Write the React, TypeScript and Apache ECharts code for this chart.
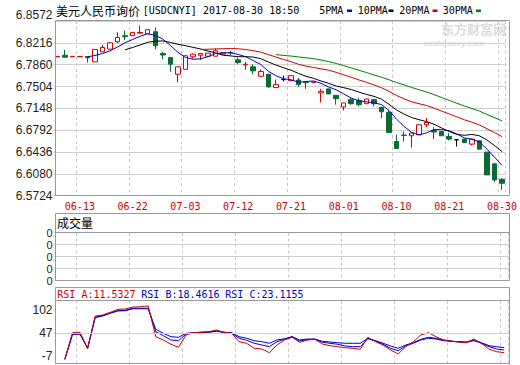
import React, { useEffect, useRef } from 'react';
import * as echarts from 'echarts';

const dates = [
  '06-08', '06-09', '06-12', '06-13', '06-14', '06-15', '06-16', '06-19', '06-20', '06-21',
  '06-22', '06-23', '06-26', '06-27', '06-28', '06-29', '06-30', '07-03', '07-04', '07-05',
  '07-06', '07-07', '07-10', '07-11', '07-12', '07-13', '07-14', '07-17', '07-18', '07-19',
  '07-20', '07-21', '07-24', '07-25', '07-26', '07-27', '07-28', '07-31', '08-01', '08-02',
  '08-03', '08-04', '08-07', '08-08', '08-09', '08-10', '08-11', '08-14', '08-15', '08-16',
  '08-17', '08-18', '08-21', '08-22', '08-23', '08-24', '08-25', '08-28', '08-29', '08-30',
];

const opens = [
  6.7990, 6.8014, 6.7990, 6.7990, 6.7993, 6.7906, 6.8070, 6.8113, 6.8234, 6.8332,
  6.8332, 6.8374, 6.8364, 6.8397, 6.8042, 6.7977, 6.7704, 6.7785, 6.7988, 6.8014,
  6.7998, 6.7998, 6.8031, 6.8060, 6.7939, 6.7857, 6.7825, 6.7671, 6.7704, 6.7486,
  6.7617, 6.7600, 6.7609, 6.7572, 6.7570, 6.7399, 6.7465, 6.7360, 6.7170, 6.7290,
  6.7278, 6.7224, 6.7290, 6.7164, 6.7082, 6.6607, 6.6712, 6.6701, 6.6717, 6.6881,
  6.6787, 6.6771, 6.6689, 6.6635, 6.6647, 6.6565, 6.6619, 6.6434, 6.6243, 6.5992,
];
const closes = [
  6.7995, 6.7982, 6.7995, 6.7995, 6.7972, 6.8108, 6.8140, 6.8217, 6.8304, 6.8315,
  6.8386, 6.8386, 6.8430, 6.8168, 6.8018, 6.7867, 6.7825, 6.8005, 6.8031, 6.8042,
  6.8047, 6.8086, 6.8054, 6.8050, 6.7895, 6.7867, 6.7759, 6.7748, 6.7497, 6.7535,
  6.7617, 6.7680, 6.7535, 6.7565, 6.7576, 6.7425, 6.7383, 6.7306, 6.7236, 6.7224,
  6.7208, 6.7301, 6.7224, 6.7093, 6.6755, 6.6493, 6.6706, 6.6745, 6.6881, 6.6918,
  6.6761, 6.6701, 6.6647, 6.6635, 6.6591, 6.6647, 6.6483, 6.6063, 6.5981, 6.5927,
];
const lows = [
  6.7985, 6.7980, 6.7988, 6.7988, 6.7895, 6.7906, 6.8065, 6.8110, 6.8211, 6.8260,
  6.8330, 6.8369, 6.8362, 6.8113, 6.7949, 6.7743, 6.7573, 6.7780, 6.7960, 6.7939,
  6.7990, 6.7995, 6.8025, 6.8014, 6.7867, 6.7775, 6.7704, 6.7665, 6.7490, 6.7480,
  6.7589, 6.7595, 6.7497, 6.7465, 6.7568, 6.7245, 6.7380, 6.7208, 6.7115, 6.7208,
  6.7180, 6.7220, 6.7180, 6.6990, 6.6750, 6.6490, 6.6607, 6.6509, 6.6715, 6.6843,
  6.6647, 6.6698, 6.6624, 6.6526, 6.6588, 6.6542, 6.6480, 6.6060, 6.5943, 6.5817,
];
const highs = [
  6.8000, 6.8103, 6.7998, 6.7998, 6.8000, 6.8108, 6.8178, 6.8230, 6.8386, 6.8414,
  6.8390, 6.8495, 6.8440, 6.8468, 6.8070, 6.7980, 6.7830, 6.8010, 6.8042, 6.8045,
  6.8050, 6.8124, 6.8060, 6.8080, 6.7977, 6.7906, 6.7867, 6.7785, 6.7710, 6.7617,
  6.7682, 6.7685, 6.7645, 6.7589, 6.7580, 6.7465, 6.7470, 6.7362, 6.7240, 6.7327,
  6.7318, 6.7305, 6.7295, 6.7170, 6.7115, 6.6717, 6.6771, 6.6750, 6.6885, 6.6990,
  6.6843, 6.6775, 6.6745, 6.6647, 6.6650, 6.6650, 6.6625, 6.6440, 6.6250, 6.6009,
];

const rsiA = [
  null, -13.6, 48.8, 49.7, 12.2, 87.9, 90.3, 96.6, 103.6, 104.3,
  109, 109.7, 111.4, 39.4, 31.7, 21.6, 14.6, 43.4, 48.8, 49.7,
  51.1, 55.1, 49.7, 47.4, 27.7, 23.9, 12.2, 10.6, 1.9, 20,
  31.7, 38, 26.3, 31.7, 33.3, 22.3, 18.3, 16, 13.6, 12.2,
  9.9, 38, 27.7, 20, 8.2, -1.1, 16, 27.7, 43.4, 48.8,
  39.4, 31.7, 29.3, 27, 25.4, 34, 23.9, 9.9, 4.3, 1.9,
];
const rsiB = [
  null, -13.6, 44.6, 45.7, 12.2, 85, 89, 95.3, 100.7, 101.4,
  106, 106, 106, 51.1, 41.8, 31.7, 30, 45.7, 48.8, 49.7,
  50.4, 52.8, 49.7, 48, 35.7, 31, 24, 20, 16, 27.7,
  33.3, 39.4, 29.3, 32.4, 33.3, 26.3, 24, 21.6, 17.6, 16,
  16, 34.7, 29.3, 21.6, 12.2, 6.6, 17.6, 24, 31.7, 35.7,
  34, 30, 28.6, 27.7, 26.3, 30, 24, 16, 10.6, 8.2,
];
const rsiC = [
  null, -13.6, 44.6, 45.7, 12.2, 84, 88, 94.3, 99.7, 100.4,
  105, 105, 105, 56.8, 47.4, 39.4, 38, 47.4, 48.8, 49.7,
  49.7, 52, 49.7, 48.8, 39.4, 35.7, 30, 27.7, 24, 31.7,
  34.7, 39.4, 31.7, 34, 34, 28.6, 27, 25.4, 24, 24,
  24, 35.7, 30, 24, 17.6, 12.2, 20, 25.4, 33.3, 38,
  35.7, 31.7, 28.6, 27, 27, 31.7, 25.4, 18.3, 16, 13.6,
];

const priceTicks = { min: 6.5724, max: 6.8572, step: 0.0356 };
const rsiLabels = [-7, 47, 102];
const volumeTicks = { min: 0, max: 4, step: 1 };

const titleCn = '美元人民币询价';
const titleEn = '[USDCNYI] 2017-08-30 18:50';
const maNames = ['5PMA', '10PMA', '20PMA', '30PMA'];
const maPeriods = [5, 10, 20, 30];
const maColors = ['#0000cc', '#000000', '#cc0000', '#008000'];
const rsiHeader = ['RSI_A:11.5327', 'RSI_B:18.4616', 'RSI_C:23.1155'];

function movingAverage(n: number) {
  return closes.map((_, i) => {
    if (i < n - 1) return null;
    let s = 0;
    for (let k = i - n + 1; k <= i; k++) s += closes[k];
    return +(s / n).toFixed(4);
  });
}

const MONO = "'DejaVu Sans Mono', 'Liberation Mono', monospace";
const SANS = "'Liberation Sans', Arial, sans-serif";
const CJK = "'Noto Sans CJK SC', sans-serif";

export default function App() {
  const ref = useRef<HTMLDivElement>(null);
  useEffect(() => {
    document.body.style.margin = '0';
    const chart = echarts.init(ref.current!, null, { renderer: 'svg' });
    const isMark = (index: number) => index >= 3 && (index - 3) % 7 === 0;
    const GL = 53.5;
    const GW = 454.5;
    const xBase = (gridIndex: number, showLabel: boolean) => ({
      type: 'category',
      gridIndex,
      data: dates,
      boundaryGap: true,
      axisLine: { show: false },
      axisTick: { show: false },
      axisLabel: {
        show: showLabel,
        interval: (i: number) => isMark(i),
        color: '#cc0000',
        fontFamily: MONO,
        fontSize: 10,
        margin: 6,
      },
      splitLine: {
        show: true,
        interval: (i: number) => isMark(i),
        lineStyle: { color: '#c8c8c8', type: [3, 3], width: 1 },
      },
    });

    const candleData = dates.map((_, i) => {
      const v = [opens[i], closes[i], lows[i], highs[i]];
      if (opens[i] === closes[i]) {
        return {
          value: v,
          itemStyle: { color: '#000', color0: '#000', borderColor: '#000', borderColor0: '#000' },
        };
      }
      return v;
    });

    const legendX = [319.3, 357.7, 399.3, 442.7];
    const legendRectX = [347, 388.5, 432.5, 476];

    const graphics: any[] = [
      { type: 'text', x: 56, y: 4, style: { text: titleCn, font: `12px ${CJK}`, fill: '#000' } },
      { type: 'text', x: 142.7, y: 5, style: { text: titleEn, font: `10px ${MONO}`, fill: '#000' } },
      { type: 'text', x: 441, y: 22, style: { text: '东方财富网', font: `bold 13px ${CJK}`, fill: '#dcdcdc' } },
      { type: 'text', x: 424, y: 39, style: { text: 'eastmoney.com', font: `italic bold 8px ${SANS}`, fill: '#dcdcdc' } },
      { type: 'rect', shape: { x: 55.5, y: 20.5, width: 454, height: 175 }, style: { fill: 'none', stroke: '#999', lineWidth: 1 }, z: 100 },
      { type: 'rect', shape: { x: 55.5, y: 213.5, width: 454, height: 67 }, style: { fill: 'none', stroke: '#999', lineWidth: 1 }, z: 100 },
      { type: 'line', shape: { x1: 55.5, y1: 232.5, x2: 509.5, y2: 232.5 }, style: { stroke: '#999', lineWidth: 1 }, z: 100 },
      { type: 'text', x: 57, y: 216, style: { text: '成交量', font: `12px ${CJK}`, fill: '#000' } },
      { type: 'rect', shape: { x: 55.5, y: 287.5, width: 454, height: 76 }, style: { fill: 'none', stroke: '#999', lineWidth: 1 }, z: 100 },
      { type: 'line', shape: { x1: 55.5, y1: 300.5, x2: 509.5, y2: 300.5 }, style: { stroke: '#999', lineWidth: 1 }, z: 100 },
      { type: 'text', x: 57.3, y: 289, style: { text: rsiHeader[0], font: `10px ${MONO}`, fill: '#cc0000' } },
      { type: 'text', x: 141.3, y: 289, style: { text: rsiHeader[1], font: `10px ${MONO}`, fill: '#0000cc' } },
      { type: 'text', x: 225.3, y: 289, style: { text: rsiHeader[2], font: `10px ${MONO}`, fill: '#0000cc' } },
    ];
    maNames.forEach((n, k) => {
      graphics.push({ type: 'text', x: legendX[k], y: 5, style: { text: n, font: `10px ${MONO}`, fill: '#000' } });
      graphics.push({ type: 'rect', shape: { x: legendRectX[k], y: 9.5, width: 5, height: 2.5 }, style: { fill: maColors[k] } });
    });

    const option: any = {
      animation: false,
      backgroundColor: '#fff',
      grid: [
        { left: GL, top: 21, width: GW, height: 174.7 },
        { left: GL, top: 232.5, width: GW, height: 48.2 },
        { left: GL, top: 300.7, width: GW, height: 63.3 },
      ],
      xAxis: [xBase(0, true), xBase(1, false), xBase(2, false)],
      yAxis: [
        {
          type: 'value',
          gridIndex: 0,
          min: priceTicks.min,
          max: priceTicks.max,
          interval: priceTicks.step,
          axisLine: { show: false },
          axisTick: { show: false },
          axisLabel: {
            formatter: (v: number) => v.toFixed(4),
            color: '#222',
            fontFamily: SANS,
            fontSize: 12,
            margin: 1,
            verticalAlignMaxLabel: 'bottom',
          },
          splitLine: { lineStyle: { color: '#d0d0d0', width: 1 } },
        },
        {
          type: 'value',
          gridIndex: 1,
          min: volumeTicks.min,
          max: volumeTicks.max,
          interval: volumeTicks.step,
          axisLine: { show: false },
          axisTick: { show: false },
          axisLabel: { formatter: () => '0', color: '#222', fontFamily: SANS, fontSize: 11, lineHeight: 11, margin: 1 },
          splitLine: { lineStyle: { color: '#d0d0d0', width: 1 } },
        },
        {
          type: 'value',
          gridIndex: 2,
          min: -24.6,
          max: 123.8,
          axisLine: { show: false },
          axisTick: { show: false },
          axisLabel: { customValues: rsiLabels, color: '#222', fontFamily: SANS, fontSize: 12, margin: 1 },
          splitLine: { show: false },
        },
      ],
      series: [
        {
          type: 'candlestick',
          xAxisIndex: 0,
          yAxisIndex: 0,
          data: candleData,
          barWidth: 5,
          itemStyle: {
            color: '#ffffff',
            borderColor: '#d40000',
            color0: '#0b6b35',
            borderColor0: '#0b6b35',
            borderWidth: 1,
          },
          z: 3,
        },
        ...maPeriods.map((p, k) => ({
          type: 'line',
          name: maNames[k],
          xAxisIndex: 0,
          yAxisIndex: 0,
          data: movingAverage(p),
          symbol: 'none',
          lineStyle: { color: maColors[k], width: 1 },
          z: 4,
        })),
        {
          type: 'line',
          name: 'RSI_C',
          xAxisIndex: 2,
          yAxisIndex: 2,
          data: rsiC,
          symbol: 'none',
          lineStyle: { color: '#0000cc', width: 1 },
          markLine: {
            silent: true,
            symbol: 'none',
            label: { show: false },
            lineStyle: { color: '#d0d0d0', type: 'solid', width: 1 },
            data: [{ yAxis: rsiLabels[1] }],
          },
        },
        {
          type: 'line',
          name: 'RSI_B',
          xAxisIndex: 2,
          yAxisIndex: 2,
          data: rsiB,
          symbol: 'none',
          lineStyle: { color: '#0000cc', width: 1 },
        },
        {
          type: 'line',
          name: 'RSI_A',
          xAxisIndex: 2,
          yAxisIndex: 2,
          data: rsiA,
          symbol: 'none',
          lineStyle: { color: '#cc0000', width: 1 },
        },
      ],
      graphic: graphics,
    };
    chart.setOption(option);
    return () => chart.dispose();
  }, []);
  return <div ref={ref} style={{ width: 520, height: 365 }} />;
}
